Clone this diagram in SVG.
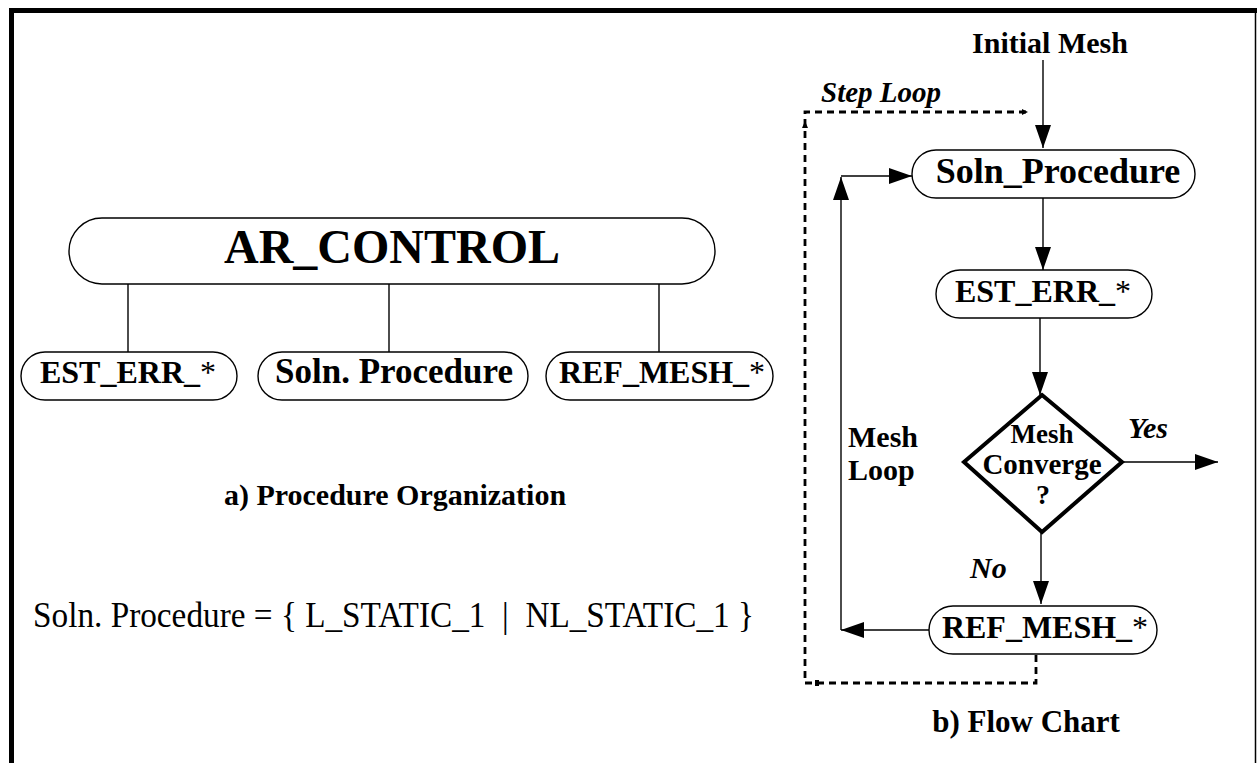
<svg xmlns="http://www.w3.org/2000/svg" width="1257" height="763" viewBox="0 0 1257 763">
<style>
.b{font-family:"Liberation Serif","Times New Roman",serif;font-weight:bold;fill:#000}
.r{font-family:"Liberation Serif","Times New Roman",serif;font-weight:normal;fill:#000}
.bi{font-family:"Liberation Serif","Times New Roman",serif;font-weight:bold;font-style:italic;fill:#000}
.pill{fill:#fff;stroke:#000;stroke-width:1.4}
.ln{fill:none;stroke:#000;stroke-width:1.4}
.dash{fill:none;stroke:#000;stroke-width:2.8;stroke-dasharray:7 5}
.ast{font-weight:normal}
</style>
<defs>
<marker id="ah" viewBox="0 0 23 16" refX="23" refY="8" markerWidth="23" markerHeight="16" markerUnits="userSpaceOnUse" orient="auto">
<path d="M0,0 L23,8 L0,16 Z" fill="#000"/>
</marker>
<marker id="tiny" viewBox="0 0 6 6" refX="6" refY="3" markerWidth="6" markerHeight="6" markerUnits="userSpaceOnUse" orient="auto">
<path d="M0,0 L6,3 L0,6 Z" fill="#000"/>
</marker>
</defs>
<rect width="1257" height="763" fill="#fff"/>
<g id="frame">
<line x1="9" y1="10.5" x2="1257" y2="10.5" stroke="#000" stroke-width="5"/>
<line x1="11.5" y1="8" x2="11.5" y2="763" stroke="#000" stroke-width="5"/>
<line x1="1255.5" y1="12" x2="1255.5" y2="763" stroke="#000" stroke-width="1.5"/>
</g>
<g id="connectors">
<line class="ln" x1="128" y1="284" x2="128" y2="352"/>
<line class="ln" x1="389" y1="284" x2="389" y2="352"/>
<line class="ln" x1="659" y1="284" x2="659" y2="352"/>
<line class="ln" x1="1043" y1="60" x2="1043" y2="148" marker-end="url(#ah)"/>
<line class="ln" x1="1043" y1="198" x2="1043" y2="270" marker-end="url(#ah)"/>
<line class="ln" x1="1040" y1="318" x2="1040" y2="395" marker-end="url(#ah)"/>
<line class="ln" x1="1122" y1="462" x2="1218" y2="462" marker-end="url(#ah)"/>
<line class="ln" x1="1041" y1="532" x2="1041" y2="604" marker-end="url(#ah)"/>
<line class="ln" x1="929" y1="630" x2="841" y2="630" marker-end="url(#ah)"/>
<line class="ln" x1="841" y1="630" x2="841" y2="177" marker-end="url(#ah)"/>
<line class="ln" x1="841" y1="176" x2="912" y2="176" marker-end="url(#ah)"/>
<path class="dash" d="M1036,655 V683 H805 V112 H1028" marker-end="url(#tiny)"/>
<path d="M802,128 L805,121 L808,128 Z" fill="#000"/>
<rect x="815" y="680" width="4" height="6" fill="#000"/>
</g>
<g id="ar_control">
<rect class="pill" x="69" y="218" width="646" height="66" rx="33"/>
<text class="b" x="392" y="263" font-size="48" text-anchor="middle">AR_CONTROL</text>
</g>
<g id="est_err_left">
<rect class="pill" x="21" y="352" width="216" height="48" rx="24"/>
<text class="b" x="128" y="383" font-size="32" text-anchor="middle">EST_ERR_<tspan class="ast">*</tspan></text>
</g>
<g id="soln_proc_left">
<rect class="pill" x="258" y="352" width="270" height="48" rx="24"/>
<text class="b" x="394" y="383" font-size="35" text-anchor="middle">Soln. Procedure</text>
</g>
<g id="ref_mesh_left">
<rect class="pill" x="546" y="352" width="227" height="48" rx="24"/>
<text class="b" x="662" y="383" font-size="32" text-anchor="middle">REF_MESH_<tspan class="ast">*</tspan></text>
</g>
<g id="caption_a">
<text class="b" x="395" y="505" font-size="30" text-anchor="middle">a) Procedure Organization</text>
</g>
<g id="definition">
<text class="r" x="33" y="627" font-size="35" textLength="721" lengthAdjust="spacingAndGlyphs">Soln. Procedure = { L_STATIC_1&#160; | &#160;NL_STATIC_1 }</text>
</g>
<g id="initial_mesh">
<text class="b" x="1050" y="53" font-size="30" text-anchor="middle">Initial Mesh</text>
</g>
<g id="step_loop_label">
<text class="bi" x="821" y="102" font-size="29">Step Loop</text>
</g>
<g id="soln_proc_right">
<rect class="pill" x="912" y="150" width="283" height="48" rx="24"/>
<text class="b" x="1058" y="183" font-size="36" text-anchor="middle">Soln_Procedure</text>
</g>
<g id="est_err_right">
<rect class="pill" x="936" y="270" width="216" height="48" rx="24"/>
<text class="b" x="1043" y="302" font-size="32" text-anchor="middle">EST_ERR_<tspan class="ast">*</tspan></text>
</g>
<g id="mesh_converge">
<polygon points="1042,395 1122,462 1042,532 964,462" fill="#fff" stroke="#000" stroke-width="4"/>
<text class="b" x="1042" y="443" font-size="27" text-anchor="middle">Mesh</text>
<text class="b" x="1042" y="474" font-size="29" text-anchor="middle">Converge</text>
<text class="b" x="1043" y="504" font-size="28" text-anchor="middle">?</text>
</g>
<g id="yes_label"><text class="bi" x="1128" y="438" font-size="30">Yes</text></g>
<g id="no_label"><text class="bi" x="970" y="578" font-size="30">No</text></g>
<g id="mesh_loop_label">
<text class="b" x="848" y="447" font-size="30">Mesh</text>
<text class="b" x="848" y="480" font-size="30">Loop</text>
</g>
<g id="ref_mesh_right">
<rect class="pill" x="929" y="606" width="228" height="48" rx="24"/>
<text class="b" x="1045" y="638" font-size="32" text-anchor="middle">REF_MESH_<tspan class="ast">*</tspan></text>
</g>
<g id="caption_b">
<text class="b" x="1026" y="732" font-size="31" text-anchor="middle">b) Flow Chart</text>
</g>
</svg>
